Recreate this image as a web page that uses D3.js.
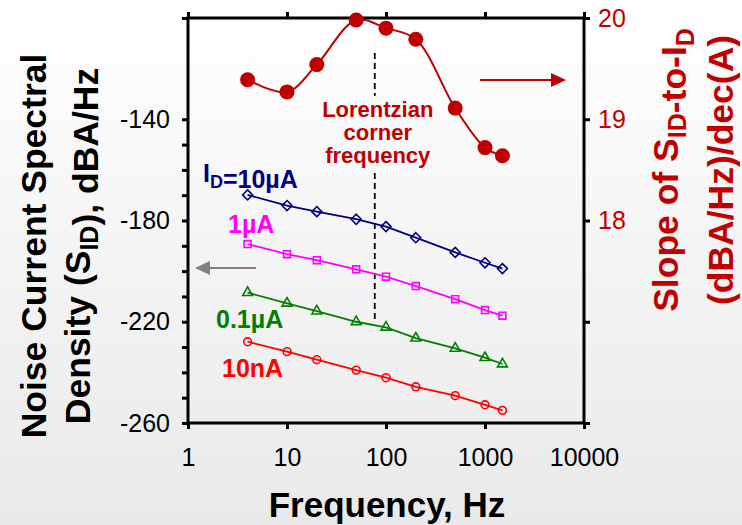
<!DOCTYPE html>
<html>
<head>
<meta charset="utf-8">
<script src="https://cdn.jsdelivr.net/npm/d3@7"></script>
<style>
  html, body { margin: 0; padding: 0; }
  body { width: 742px; height: 525px; overflow: hidden; }
  text { font-family: "Liberation Sans", Arial, sans-serif; }
</style>
</head>
<body>
<div id="chart"></div>
<script>
// frequencies (Hz) shared by every series
const freqs = [4, 10, 20, 50, 100, 200, 500, 1000, 1500];

// noise current spectral density, dBA/Hz
const s10uA = [-169.9, -174.1, -176.5, -179.5, -182.4, -186.8, -192.6, -196.7, -199.0];
const s1uA = [-189.3, -193.3, -195.7, -199.3, -202.2, -205.9, -211.1, -215.4, -217.6];
const s01uA = [-208.5, -212.7, -215.8, -220.0, -222.2, -226.5, -230.5, -234.2, -236.7];
const s10nA = [-227.9, -231.8, -235.0, -239.1, -242.1, -245.7, -249.2, -252.8, -255.0];

// slope of S_ID-to-I_D, (dBA/Hz)/dec(A)
const slope = [19.39, 19.27, 19.54, 19.98, 19.90, 19.79, 19.11, 18.72, 18.64];

const cornerFreq = 77;

const xTicks = [1, 10, 100, 1000, 10000];
const yLeftTicks = [-260, -250, -240, -230, -220, -210, -200, -190, -180, -170, -160, -150, -140, -100];
const yLeftLabels = [-260, -220, -180, -140];
const yRightTicks = [16, 17, 18, 19, 20];
const yRightLabels = [18, 19, 20];

const W = 742, H = 525;
const plot = { left: 188, right: 584, top: 18, bottom: 423 };
const darkRed = "#c00000";

const svg = d3.select("#chart").append("svg")
    .attr("width", W)
    .attr("height", H);

// slide background
const grad = svg.append("defs").append("linearGradient")
    .attr("id", "bg").attr("x1", 0).attr("y1", 0).attr("x2", 0).attr("y2", 1);
grad.append("stop").attr("offset", "0%").attr("stop-color", "#ffffff");
grad.append("stop").attr("offset", "100%").attr("stop-color", "#e9e9e9");
svg.append("rect").attr("width", W).attr("height", H).attr("fill", "url(#bg)");

const x = d3.scaleLog().domain([1, 10000]).range([plot.left, plot.right]);
const yL = d3.scaleLinear().domain([-260, -100]).range([plot.bottom, plot.top]);
const yR = d3.scaleLinear().domain([16, 20]).range([plot.bottom, plot.top]);

// axes
function styleAxis(g, color, size) {
    g.select(".domain").remove();
    g.selectAll(".tick line").attr("stroke", "#000").attr("stroke-width", 3);
    g.selectAll(".tick text")
        .attr("fill", color)
        .style("font-size", size + "px");
}

svg.append("g")
    .attr("transform", `translate(0,${plot.bottom})`)
    .call(d3.axisBottom(x).tickValues(xTicks).tickFormat(d3.format("d")).tickSize(6).tickPadding(19))
    .call(g => styleAxis(g, "#000", 25));

svg.append("g")
    .attr("transform", `translate(0,${plot.top})`)
    .call(d3.axisTop(x).tickValues(xTicks).tickFormat("").tickSize(6))
    .call(g => styleAxis(g, "#000", 25));

svg.append("g")
    .attr("transform", `translate(${plot.left},0)`)
    .call(d3.axisLeft(yL).tickValues(yLeftTicks)
        .tickFormat(d => yLeftLabels.includes(d) ? d : "").tickSize(6).tickPadding(12))
    .call(g => styleAxis(g, "#000", 25));

svg.append("g")
    .attr("transform", `translate(${plot.right},0)`)
    .call(d3.axisRight(yR).tickValues(yRightTicks)
        .tickFormat(d => yRightLabels.includes(d) ? d : "").tickSize(6).tickPadding(8))
    .call(g => styleAxis(g, darkRed, 25));

// frame
svg.append("rect")
    .attr("x", plot.left).attr("y", plot.top)
    .attr("width", plot.right - plot.left).attr("height", plot.bottom - plot.top)
    .attr("fill", "none").attr("stroke", "#000").attr("stroke-width", 3);

// corner frequency dashed line (broken around the label)
const dashG = svg.append("g")
    .attr("stroke", "#000").attr("stroke-width", 1.8).attr("stroke-dasharray", "6,4");
[[53, 96], [173, 320]].forEach(([a, b]) => {
    dashG.append("line")
        .attr("x1", x(cornerFreq)).attr("x2", x(cornerFreq))
        .attr("y1", a).attr("y2", b);
});

// noise series
const series = [
    { values: s10uA, color: "#000080", symbol: d3.symbolDiamond2, size: 64 },
    { values: s1uA, color: "#ff00ff", symbol: d3.symbolSquare2, size: 60 },
    { values: s01uA, color: "#008000", symbol: d3.symbolTriangle2, size: 70 },
    { values: s10nA, color: "#ff0000", symbol: d3.symbolCircle, size: 48 }
];

const lineL = d3.line().x(d => x(d[0])).y(d => yL(d[1]));

series.forEach(s => {
    const pts = freqs.map((f, i) => [f, s.values[i]]);
    svg.append("path")
        .attr("d", lineL(pts))
        .attr("fill", "none")
        .attr("stroke", s.color)
        .attr("stroke-width", 1.8);
    svg.append("g").selectAll("path")
        .data(pts)
        .join("path")
        .attr("transform", d => `translate(${x(d[0])},${yL(d[1])})`)
        .attr("d", d3.symbol().type(s.symbol).size(s.size))
        .attr("fill", "none")
        .attr("stroke", s.color)
        .attr("stroke-width", 1.6);
});

// slope series (right axis)
const slopePts = freqs.map((f, i) => [f, slope[i]]);
svg.append("path")
    .attr("d", d3.line().x(d => x(d[0])).y(d => yR(d[1])).curve(d3.curveCatmullRom)(slopePts))
    .attr("fill", "none")
    .attr("stroke", darkRed)
    .attr("stroke-width", 2);
svg.append("g").selectAll("circle")
    .data(slopePts)
    .join("circle")
    .attr("cx", d => x(d[0]))
    .attr("cy", d => yR(d[1]))
    .attr("r", 7.5)
    .attr("fill", darkRed);

// arrows
function arrow(x1, x2, y, color) {
    const dir = Math.sign(x2 - x1);
    const head = 15;
    svg.append("line")
        .attr("x1", x1).attr("x2", x2 - dir * head)
        .attr("y1", y).attr("y2", y)
        .attr("stroke", color).attr("stroke-width", 2.2);
    svg.append("path")
        .attr("d", `M${x2},${y} L${x2 - dir * head},${y - 7} L${x2 - dir * head},${y + 7} Z`)
        .attr("fill", color);
}
arrow(480, 566, 80, darkRed);
arrow(256, 195, 268, "#808080");

// annotations
const note = svg.append("text")
    .attr("x", x(cornerFreq) + 3)
    .attr("fill", darkRed)
    .attr("text-anchor", "middle")
    .style("font-size", "22px")
    .style("font-weight", "bold");
["Lorentzian", "corner", "frequency"].forEach((t, i) => {
    note.append("tspan").attr("x", x(cornerFreq) + 3).attr("y", 117 + i * 23).text(t);
});

function label(xp, yp, color, parts) {
    const t = svg.append("text")
        .attr("x", xp).attr("y", yp)
        .attr("fill", color)
        .style("font-size", "25px")
        .style("font-weight", "bold");
    parts.forEach(p => {
        if (p.sub) {
            t.append("tspan").attr("dy", 6).style("font-size", "18px").text(p.sub);
            t.append("tspan").attr("dy", -6).text("");
        } else {
            t.append("tspan").text(p.t);
        }
    });
}
label(203, 182, "#000080", [{ t: "I" }, { sub: "D" }, { t: "=10µA" }]);
label(228, 233, "#ff00ff", [{ t: "1µA" }]);
label(216, 328, "#008000", [{ t: "0.1µA" }]);
label(222, 377, "#ff0000", [{ t: "10nA" }]);

// axis titles
svg.append("text")
    .attr("x", 387).attr("y", 517)
    .attr("text-anchor", "middle")
    .style("font-size", "35px")
    .style("font-weight", "bold")
    .text("Frequency, Hz");

function rotTitle(cx, cy, color, lines) {
    const g = svg.append("g").attr("transform", `translate(${cx},${cy}) rotate(-90)`);
    lines.forEach(l => {
        const t = g.append("text")
            .attr("y", l.y)
            .attr("text-anchor", "middle")
            .attr("fill", color)
            .style("font-size", "35.5px")
            .style("font-weight", "bold");
        l.parts.forEach(p => {
            if (p.sub) {
                t.append("tspan").attr("dy", 8).style("font-size", "25px").text(p.sub);
                t.append("tspan").attr("dy", -8).text("");
            } else {
                t.append("tspan").text(p.t);
            }
        });
    });
}

rotTitle(0, 246, "#000", [
    { y: 46, parts: [{ t: "Noise Current Spectral" }] },
    { y: 90, parts: [{ t: "Density (S" }, { sub: "ID" }, { t: "), dBA/Hz" }] }
]);

rotTitle(0, 170, darkRed, [
    { y: 678, parts: [{ t: "Slope of S" }, { sub: "ID" }, { t: "-to-I" }, { sub: "D" }] },
    { y: 733, parts: [{ t: "(dBA/Hz)/dec(A)" }] }
]);
</script>
</body>
</html>
